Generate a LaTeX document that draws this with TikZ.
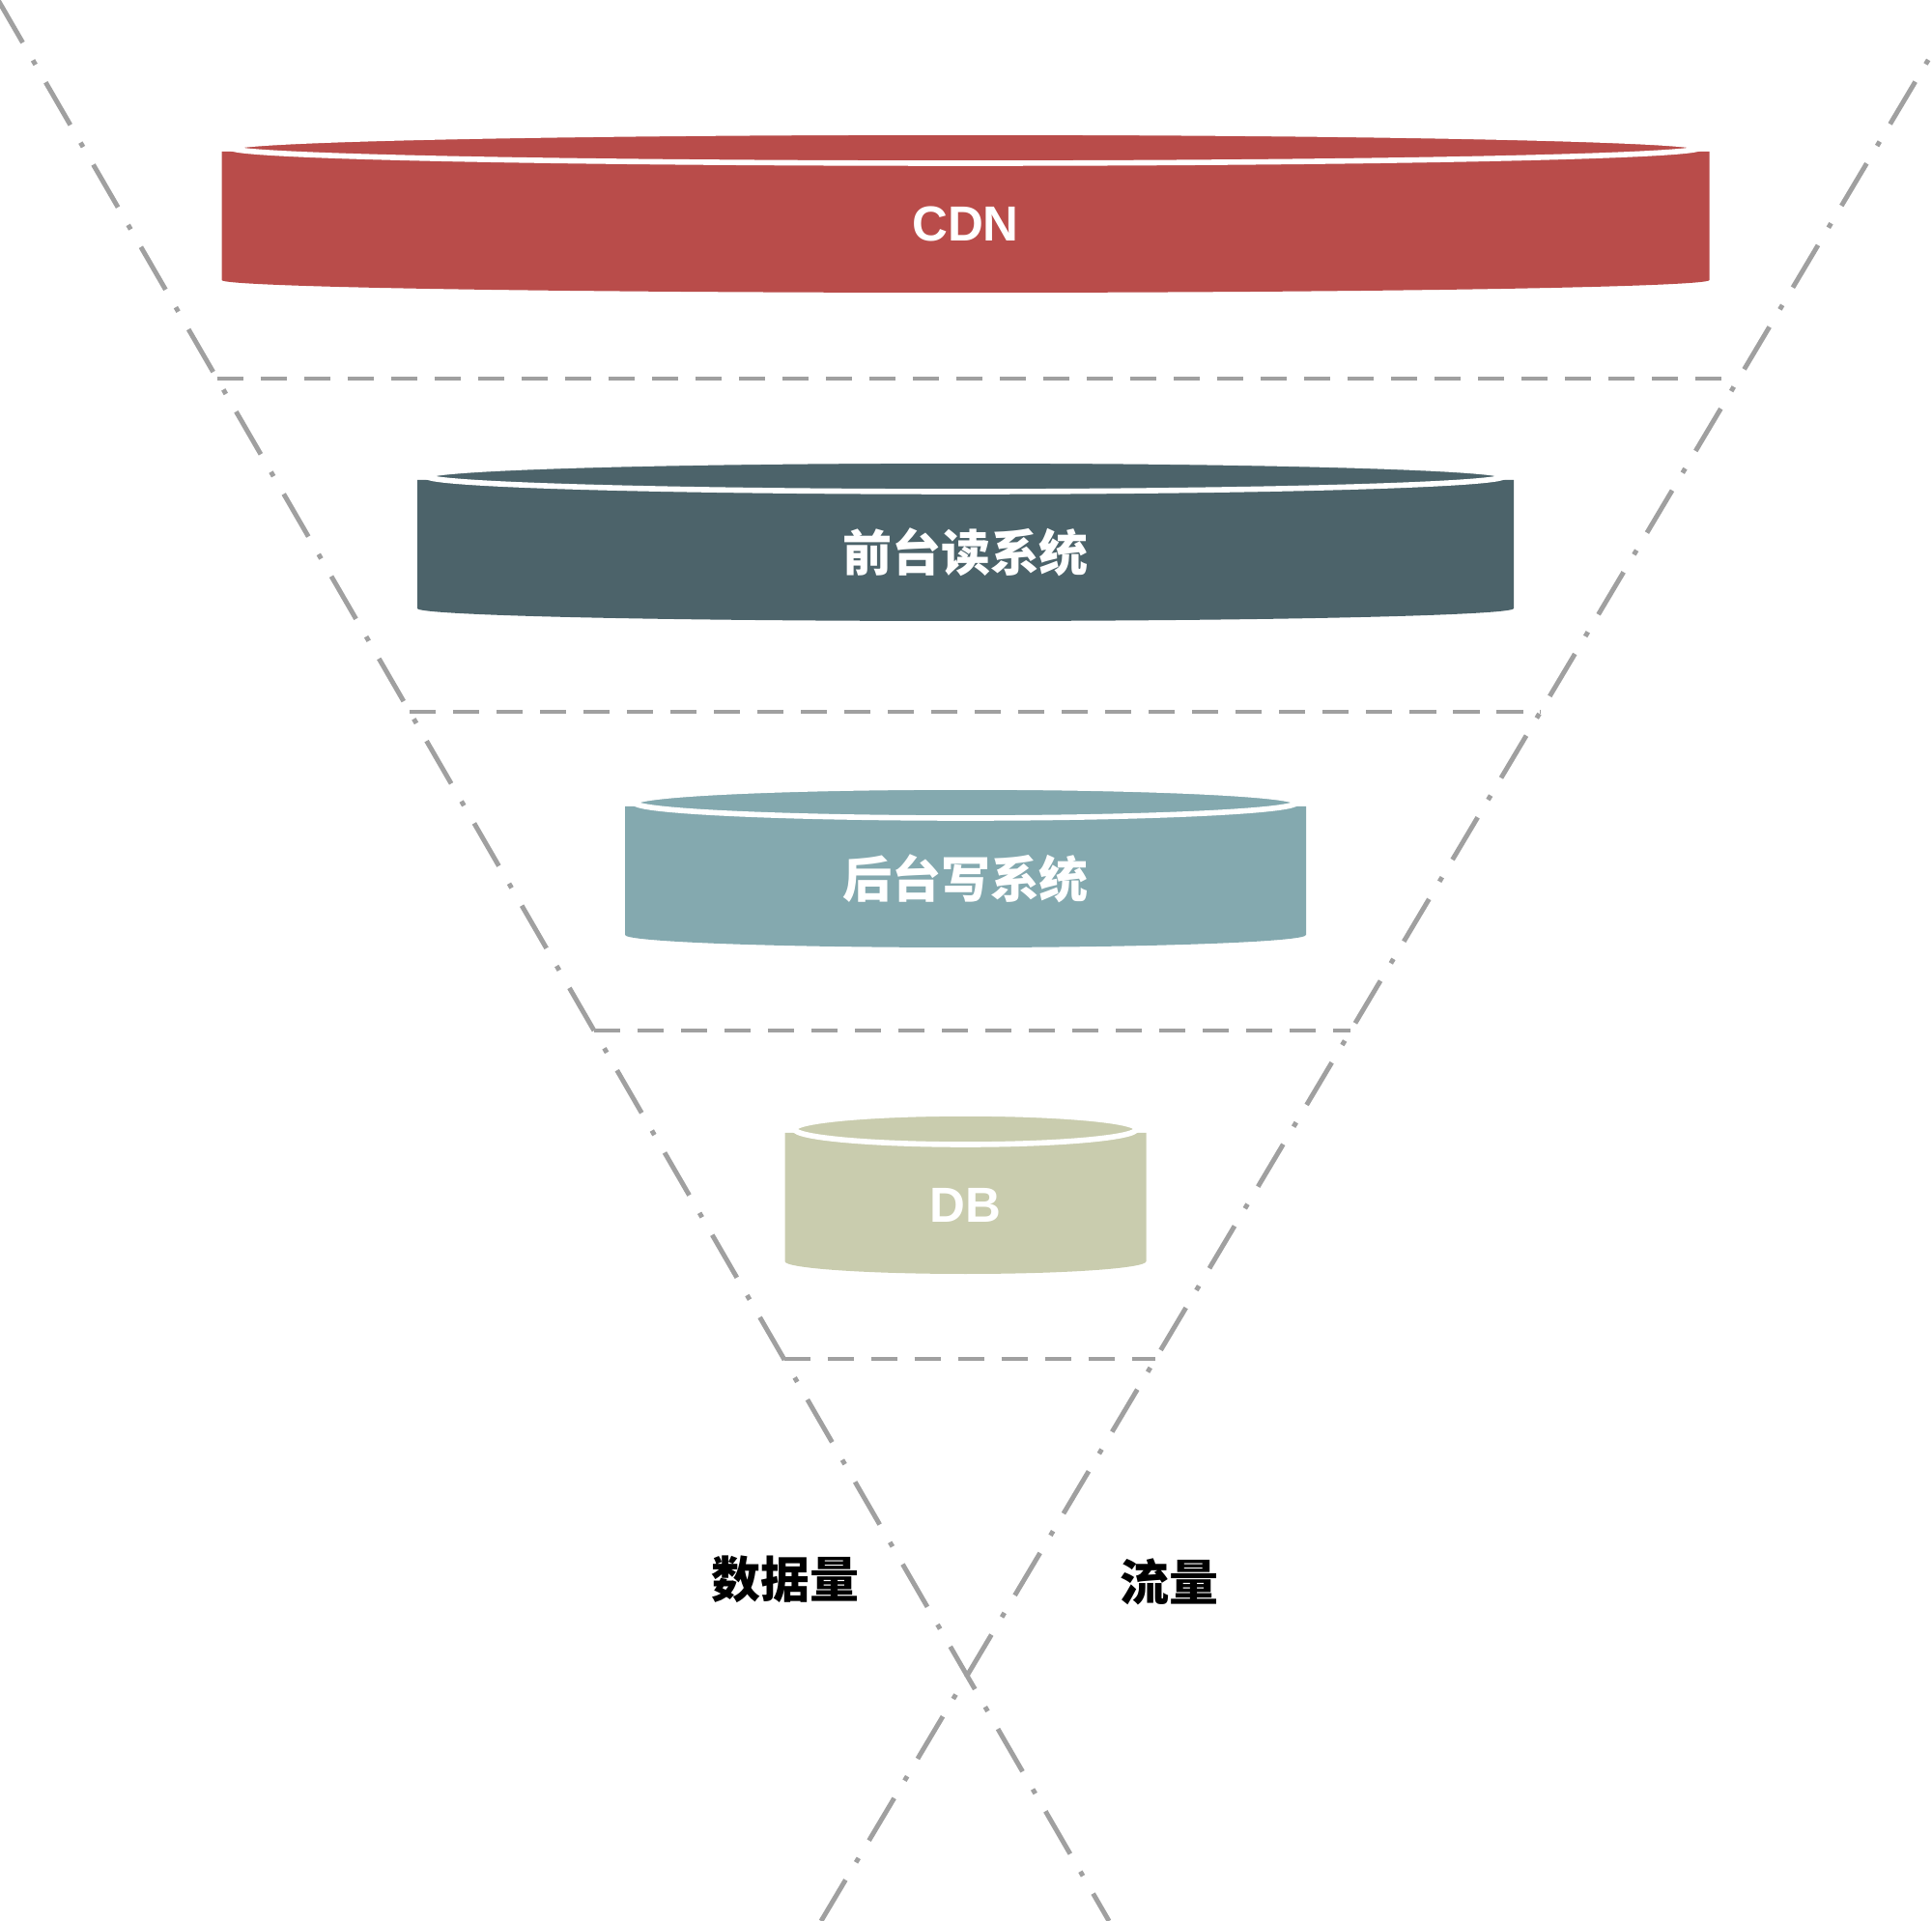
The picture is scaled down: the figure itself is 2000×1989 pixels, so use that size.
\documentclass[tikz,border=0pt]{standalone}
\usepackage{fontspec}
\newfontfamily\cjk{Noto Sans CJK SC}
\newfontfamily\latin{Liberation Sans}
\usetikzlibrary{calc}
\definecolor{cdn}{HTML}{B94C4A}
\definecolor{front}{HTML}{4C636A}
\definecolor{back}{HTML}{84A9AF}
\definecolor{db}{HTML}{C9CCAE}
\definecolor{rule}{HTML}{A0A0A0}
\begin{document}
\begin{tikzpicture}[%
  x=0.01cm,y=-0.01cm,
  funnel/.style={draw=rule,line width=1.4pt,dash pattern=on 14.5pt off 6pt on 1.5pt off 6pt},
  divider/.style={draw=rule,line width=1.4pt,dash pattern=on 7.7pt off 5.1pt},
  tier/.style={font={\cjk\bfseries\fontsize{14.5pt}{17pt}\selectfont},text=white},
  side/.style={font={\cjk\bfseries\fontsize{14.5pt}{17pt}\selectfont},text=black}]
    \useasboundingbox (0,0) rectangle (2000,1989);
    \clip (0,0) rectangle (2000,1989);
    % Funnel edges
    \coordinate (top left) at (-2,0);
    \coordinate (bottom left) at (1148,1989);
    \coordinate (top right) at (2033,0);
    \coordinate (bottom right) at (850,1989);
    \draw[funnel] (top left) -- (bottom left);
    \draw[funnel] (top right) -- (bottom right);
    % Dividers
    \foreach \y/\n in {392/1,737/2,1067/3,1407/4} {
      \coordinate (dl\n) at ($(top left)!\y/1989!(bottom left)$);
      \coordinate (dr\n) at ($(top right)!\y/1989!(bottom right)$);
      \draw[divider] (dl\n) -- (dr\n);
    }
    % Tiers
    \foreach \y/\w/\c/\t in {157/770/cdn/{\latin CDN},497/567.5/front/前台读系统,
                             835/352.5/back/后台写系统,1173/187/db/{\latin DB}} {
      \fill[\c] (999.5-\w,\y) -- (999.5-\w,\y+133)
        arc[start angle=180,end angle=0,x radius=\w,y radius=13]
        -- (999.5+\w,\y) -- cycle;
      \filldraw[fill=\c,draw=white,line width=1.6pt] (999.5,\y-4)
        ellipse[x radius=\w-10,y radius=16];
      \node[tier] (\c) at (999.5,\y+75) {\t};
    }
    % Labels
    \node[side] (data) at (813,1635) {数据量};
    \node[side] (flow) at (1210,1638) {流量};
\end{tikzpicture}
\end{document}
